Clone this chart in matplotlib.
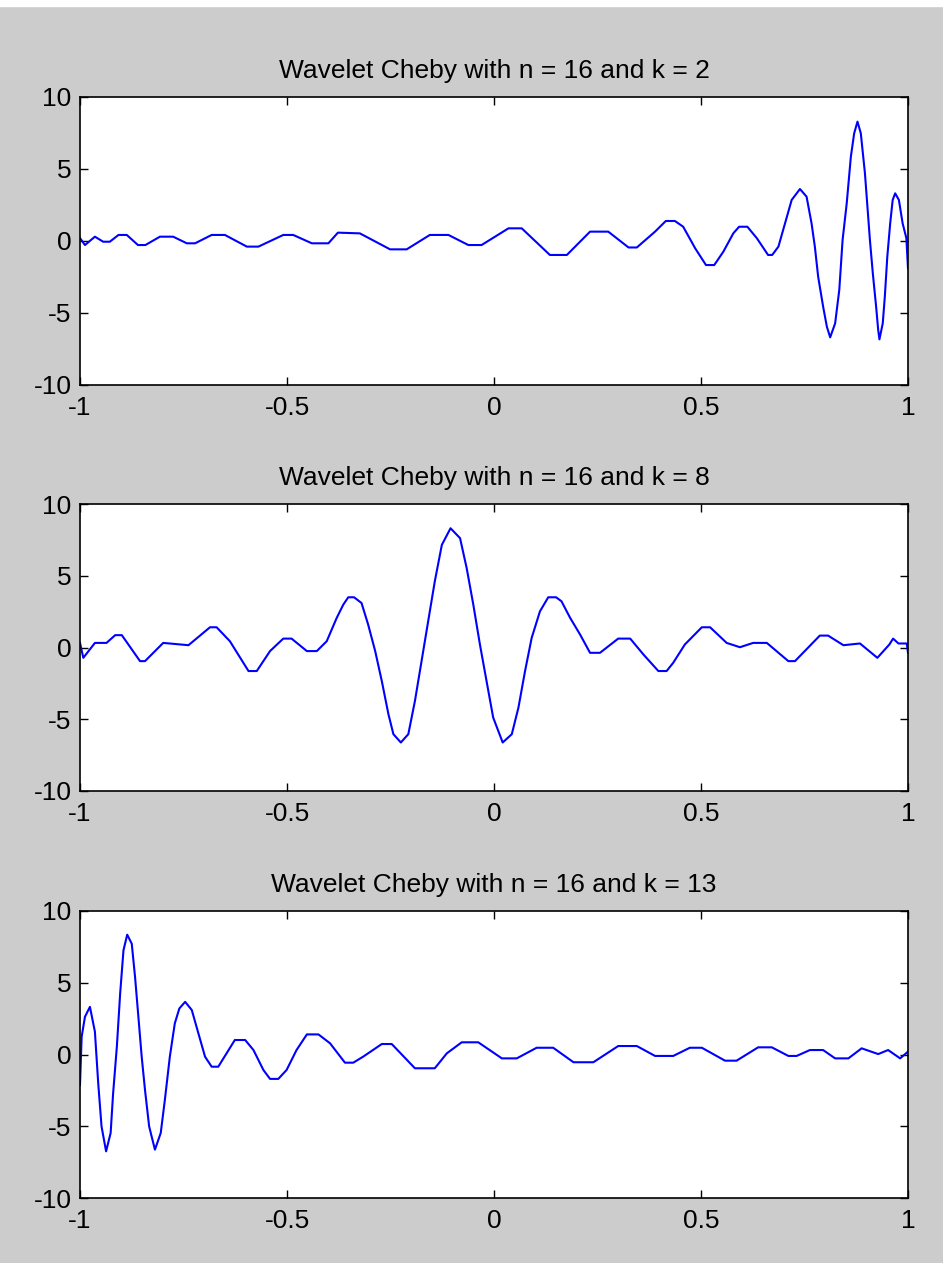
import matplotlib
matplotlib.use("Agg")
import matplotlib.pyplot as plt
from matplotlib.patches import Rectangle

plt.rcParams["font.family"] = ["Liberation Sans", "DejaVu Sans"]

BG = "#cccccc"
BLUE = "#0000ff"

TITLES = ["Wavelet Cheby with n = 16 and k = 2",
          "Wavelet Cheby with n = 16 and k = 8",
          "Wavelet Cheby with n = 16 and k = 13"]
XTICKS = [-1, -0.5, 0, 0.5, 1]
XTICKLABELS = ["-1", "-0.5", "0", "0.5", "1"]
YTICKS = [-10, -5, 0, 5, 10]
YTICKLABELS = ["-10", "-5", "0", "5", "10"]

# k = 2
x_k2 = [-1.0, -0.988, -0.964, -0.944, -0.928, -0.907, -0.887, -0.860, -0.842,
        -0.807, -0.775, -0.742, -0.722, -0.682, -0.650, -0.597, -0.569, -0.509,
        -0.485, -0.440, -0.400, -0.377, -0.324, -0.251, -0.211, -0.155, -0.110,
        -0.062, -0.030, 0.035, 0.067, 0.135, 0.176, 0.232, 0.276, 0.325, 0.345,
        0.389, 0.415, 0.437, 0.457, 0.486, 0.512, 0.532, 0.554, 0.578, 0.592,
        0.612, 0.635, 0.662, 0.672, 0.687, 0.703, 0.719, 0.739, 0.755, 0.767,
        0.775, 0.783, 0.795, 0.804, 0.812, 0.824, 0.834, 0.842, 0.852, 0.862,
        0.870, 0.878, 0.886, 0.896, 0.902, 0.908, 0.915, 0.923, 0.928, 0.931,
        0.939, 0.944, 0.950, 0.957, 0.963, 0.969, 0.978, 0.987, 0.996, 1.0]
y_k2 = [0.2, -0.28, 0.3, -0.05, -0.05, 0.42, 0.42, -0.28, -0.28,
        0.3, 0.3, -0.16, -0.16, 0.42, 0.42, -0.39, -0.39, 0.42,
        0.42, -0.16, -0.16, 0.58, 0.53, -0.58, -0.58, 0.42, 0.42,
        -0.28, -0.28, 0.88, 0.88, -0.97, -0.97, 0.65, 0.65, -0.45, -0.45,
        0.65, 1.39, 1.39, 0.99, -0.51, -1.67, -1.67, -0.74, 0.53, 0.99,
        0.99, 0.19, -0.97, -0.97, -0.39, 1.23, 2.85, 3.61, 3.08, 1.23,
        -0.39, -2.48, -4.56, -5.95, -6.69, -5.72, -3.40, 0.07, 2.62, 5.86,
        7.48, 8.29, 7.48, 4.70, 2.38, 0.07, -2.24, -4.56, -6.18, -6.83,
        -5.72, -3.87, -1.09, 1.23, 2.85, 3.31, 2.85, 1.23, 0.2, -1.9]

# k = 8
x_k8 = [-1.0, -0.992, -0.964, -0.936, -0.915, -0.899, -0.855, -0.843, -0.799,
        -0.738, -0.686, -0.670, -0.638, -0.593, -0.573, -0.541, -0.509, -0.489,
        -0.452, -0.428, -0.404, -0.380, -0.364, -0.352, -0.338, -0.320, -0.304,
        -0.287, -0.271, -0.255, -0.243, -0.225, -0.207, -0.191, -0.175, -0.159,
        -0.143, -0.126, -0.105, -0.082, -0.066, -0.050, -0.034, -0.018, -0.002,
        0.021, 0.043, 0.059, 0.075, 0.091, 0.111, 0.131, 0.150, 0.163, 0.184,
        0.208, 0.232, 0.256, 0.300, 0.329, 0.361, 0.397, 0.417, 0.433, 0.461,
        0.502, 0.522, 0.562, 0.594, 0.626, 0.659, 0.711, 0.727, 0.787, 0.807,
        0.844, 0.884, 0.926, 0.955, 0.964, 0.977, 0.997, 1.0]
y_k8 = [0.32, -0.72, 0.32, 0.32, 0.86, 0.86, -0.95, -0.95, 0.32,
        0.16, 1.41, 1.41, 0.44, -1.64, -1.64, -0.25, 0.62, 0.62,
        -0.25, -0.25, 0.44, 2.06, 2.99, 3.50, 3.50, 3.10, 1.60,
        -0.25, -2.34, -4.65, -6.04, -6.62, -6.04, -3.73, -0.95, 1.83,
        4.61, 7.15, 8.31, 7.62, 5.53, 2.99, 0.21, -2.34, -4.88,
        -6.62, -6.04, -4.19, -1.64, 0.67, 2.52, 3.50, 3.50, 3.22, 2.06,
        0.90, -0.37, -0.37, 0.62, 0.62, -0.49, -1.64, -1.64, -1.06, 0.21,
        1.41, 1.41, 0.32, 0.02, 0.32, 0.32, -0.95, -0.95, 0.83, 0.83,
        0.16, 0.28, -0.72, 0.21, 0.62, 0.28, 0.28, -0.37]

# k = 13
x_k13 = [-1.0, -0.996, -0.988, -0.976, -0.964, -0.956, -0.948, -0.937, -0.926,
         -0.920, -0.911, -0.903, -0.895, -0.886, -0.875, -0.867, -0.859, -0.851,
         -0.843, -0.833, -0.819, -0.805, -0.795, -0.783, -0.771, -0.760, -0.746,
         -0.730, -0.714, -0.698, -0.682, -0.666, -0.646, -0.626, -0.601, -0.581,
         -0.557, -0.541, -0.521, -0.501, -0.477, -0.452, -0.424, -0.396, -0.360,
         -0.340, -0.316, -0.271, -0.247, -0.191, -0.143, -0.114, -0.078, -0.038,
         0.019, 0.055, 0.103, 0.143, 0.192, 0.240, 0.300, 0.345, 0.389, 0.433,
         0.473, 0.502, 0.558, 0.586, 0.638, 0.671, 0.711, 0.731, 0.763, 0.795,
         0.824, 0.856, 0.888, 0.928, 0.952, 0.981, 1.0]
y_k13 = [-2.12, 1.24, 2.63, 3.32, 1.59, -2.0, -5.01, -6.75, -5.47,
         -2.70, 0.54, 4.25, 7.26, 8.35, 7.72, 5.40, 2.63, -0.15,
         -2.47, -5.01, -6.63, -5.47, -3.16, -0.15, 2.17, 3.21, 3.67,
         3.10, 1.47, -0.15, -0.85, -0.85, 0.08, 1.01, 1.01, 0.31,
         -1.08, -1.70, -1.70, -1.08, 0.31, 1.40, 1.40, 0.78, -0.57,
         -0.57, -0.15, 0.73, 0.73, -0.96, -0.96, 0.08, 0.85, 0.85,
         -0.27, -0.27, 0.47, 0.47, -0.54, -0.54, 0.59, 0.59, -0.10, -0.10,
         0.47, 0.47, -0.43, -0.43, 0.50, 0.50, -0.10, -0.10, 0.31, 0.31,
         -0.27, -0.27, 0.43, 0.03, 0.31, -0.27, 0.2]

SERIES = [(x_k2, y_k2), (x_k8, y_k8), (x_k13, y_k13)]

fig = plt.figure(figsize=(9.43, 12.63), dpi=100)
fig.patch.set_facecolor(BG)
fig.add_artist(Rectangle((0, 1 - 6 / 1263), 1, 6 / 1263,
                         transform=fig.transFigure, color="white", zorder=0))

# axes boxes in pixels: (top, bottom)
boxes = [(97, 385), (504, 791), (911, 1198)]
left, right = 80, 908
W, H = 943, 1263

for (top, bot), (xs, ys), title in zip(boxes, SERIES, TITLES):
    ax = fig.add_axes([left / W, 1 - bot / H, (right - left) / W, (bot - top) / H])
    ax.plot(xs, ys, color=BLUE, lw=1.5)
    ax.set_xlim(-1, 1)
    ax.set_ylim(-10, 10)
    ax.set_xticks(XTICKS, XTICKLABELS)
    ax.set_yticks(YTICKS, YTICKLABELS)
    ax.tick_params(direction="in", length=6, width=1, top=True, right=True,
                   labelsize=19, colors="black")
    ax.tick_params(axis="x", pad=8)
    ax.tick_params(axis="y", pad=6)
    for sp in ax.spines.values():
        sp.set_linewidth(1.2)
    ax.set_title(title, fontsize=19, pad=14)

fig.savefig("out.png", dpi=100, facecolor=BG)
